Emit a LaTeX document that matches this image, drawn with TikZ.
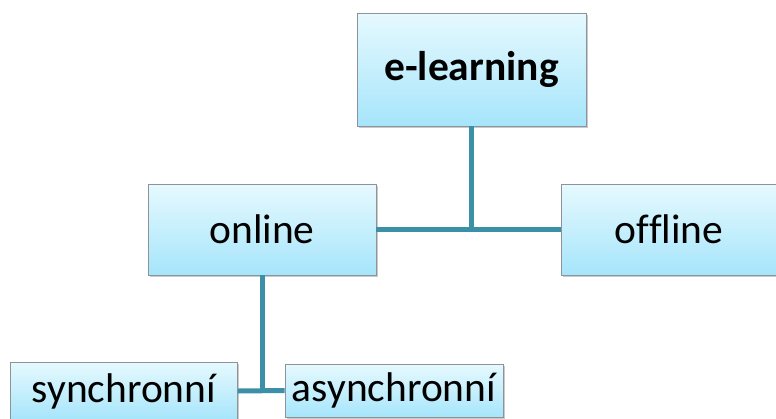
\documentclass[tikz,border=0pt]{standalone}
\usepackage{fontspec}
\setmainfont{Carlito}[Ligatures={NoCommon}]
\usetikzlibrary{shadows}
\definecolor{linkc}{HTML}{3B8FA6}
\definecolor{boxtop}{HTML}{E6F9FE}
\definecolor{boxbot}{HTML}{A6E5FB}
\definecolor{boxedge}{HTML}{8C9499}
\tikzset{
  box/.style={draw=boxedge, line width=0.8pt, top color=boxtop, bottom color=boxbot,
    inner sep=0pt, font=\fontsize{41.5}{48}\selectfont,
    drop shadow={shadow xshift=1.5pt, shadow yshift=-1.5pt, opacity=0.35, fill=black!60}},
  link/.style={draw=linkc, line width=5pt}
}
\begin{document}
\begin{tikzpicture}[x=1pt,y=-1pt]
\useasboundingbox (0,0) rectangle (776,418);
\node[box, minimum width=229pt, minimum height=113pt, font=\fontsize{41.5}{48}\selectfont\bfseries] (el) at (471.5,69.5) {e-learning};
\node[box, minimum width=228pt, minimum height=91pt] (on) at (262,229.5) {online};
\node[box, minimum width=216pt, minimum height=91pt] (off) at (669,229.5) {offline};
\node[box, minimum width=227pt, minimum height=58pt] (syn) at (124,391) {synchronní};
\node[box, minimum width=218pt, minimum height=53pt] (asyn) at (394,390.5) {asynchronní};
\coordinate (j1) at (el.south |- on.east);
\coordinate (j2) at (on.south |- syn.east);
\draw[link] (el.south) -- (j1);
\draw[link] (on.east) -- (off.west);
\draw[link] (on.south) -- (j2);
\draw[link] (syn.east) -- (asyn.west);
\end{tikzpicture}
\end{document}
